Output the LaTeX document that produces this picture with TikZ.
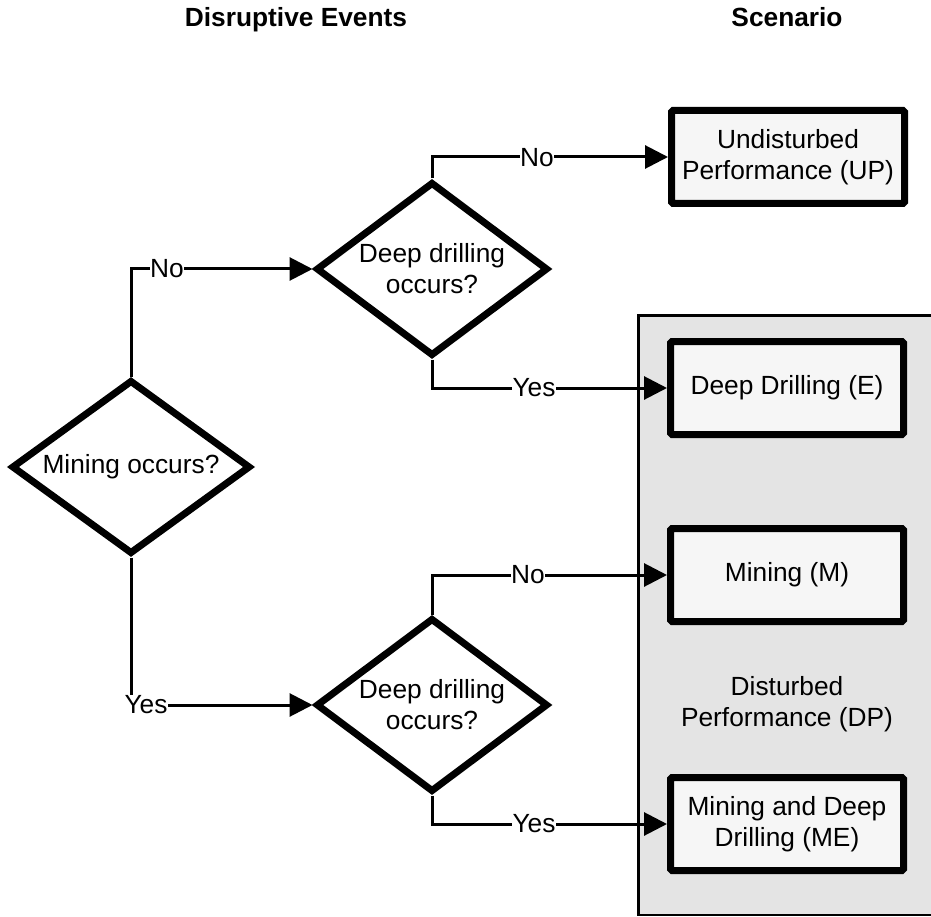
\documentclass[tikz,border=0pt]{standalone}
\usepackage{fontspec}
\setmainfont{Liberation Sans}
\usetikzlibrary{shapes.geometric,arrows.meta}
\definecolor{boxfill}{HTML}{F6F6F6}
\definecolor{groupfill}{HTML}{E4E4E4}
\begin{document}
\begin{tikzpicture}[x=1pt,y=-1pt,
  txt/.style={font=\fontsize{26.3}{31}\selectfont},
  conn/.style={line width=3pt,-{Triangle[length=23pt,width=23pt]}},
  decision/.style={draw,shape=diamond,line width=7pt,fill=white,inner sep=0pt,
    minimum width=#1,minimum height=174pt},
  dtext/.style={txt,align=center},
  scen/.style={txt,draw,rectangle,rounded corners=1.5pt,line width=7pt,fill=boxfill,
    minimum width=233pt,minimum height=93pt,align=center},
  group/.style={draw,line width=2.5pt,fill=groupfill},
  lbl/.style={txt,fill=white,inner sep=0.5pt},
  title/.style={font=\fontsize{26.3}{30}\selectfont\bfseries,anchor=base}
]
\useasboundingbox (0,0) rectangle (931,917);
\clip (0,0) rectangle (931,917);
\fill[white] (0,0) rectangle (931,917);

% titles
\node[title] (t1) at (296,27) {Disruptive Events};
\node[title] (t2) at (787,27) {Scenario};

% disturbed performance group
\draw[group] (638.5,315.5) rectangle (960,915);
\node[txt,align=center] (dp) at (787,704) {Disturbed\\Performance (DP)};

% decisions
\node[decision=239pt] (mine) at (131,467) {};
\node[dtext] (minet) at (mine.center) {Mining occurs?};
\node[decision=232pt] (dd1) at (432,269) {};
\node[dtext] (dd1t) at (dd1.center) {Deep drilling\\occurs?};
\node[decision=232pt] (dd2) at (432,705) {};
\node[dtext] (dd2t) at (dd2.center) {Deep drilling\\occurs?};

% scenarios
\node[scen] (up) at (788,157) {Undisturbed\\Performance (UP)};
\node[scen] (e) at (787,388) {Deep Drilling (E)};
\node[scen] (m) at (787,575) {Mining (M)};
\node[scen] (me) at (787,824) {Mining and Deep\\Drilling (ME)};

% connectors
\draw[conn] (mine.north) |- (dd1.west);
\draw[conn] (mine.south) |- (dd2.west);
\draw[conn] (dd1.north) |- (up.west);
\draw[conn] (dd1.south) |- (e.west);
\draw[conn] (dd2.north) |- (m.west);
\draw[conn] (dd2.south) |- (me.west);

% labels
\node[lbl] (l1) at (167,269) {No};
\node[lbl] (l2) at (146,705) {Yes};
\node[lbl] (l3) at (537,158) {No};
\node[lbl] (l4) at (534,388) {Yes};
\node[lbl] (l5) at (528,575) {No};
\node[lbl] (l6) at (534,824) {Yes};
\end{tikzpicture}
\end{document}
